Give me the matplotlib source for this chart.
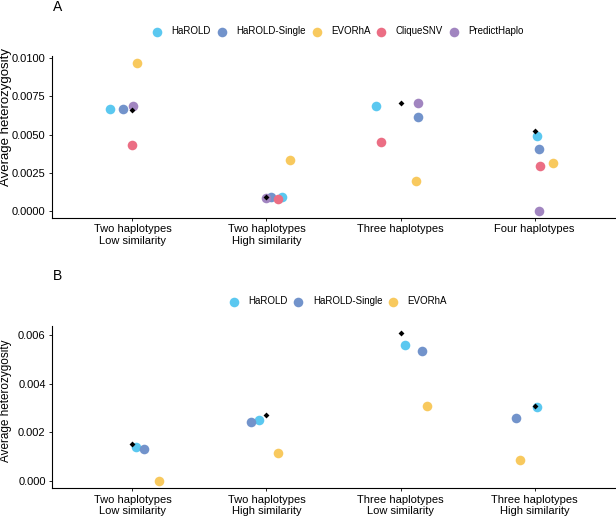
import matplotlib
matplotlib.use("Agg")
import matplotlib.pyplot as plt
from matplotlib.ticker import FormatStrFormatter

plt.rcParams['font.family'] = ['Liberation Sans', 'DejaVu Sans']

colors = {'HaROLD': '#5BC8F0', 'HaROLD-Single': '#7293CB', 'EVORhA': '#F8C95E',
          'CliqueSNV': '#EB6E84', 'PredictHaplo': '#A185C0'}

# panel A
cats_a = ['Two haplotypes\nLow similarity', 'Two haplotypes\nHigh similarity',
          'Three haplotypes', 'Four haplotypes']
methods_a = ['HaROLD', 'HaROLD-Single', 'EVORhA', 'CliqueSNV', 'PredictHaplo']
vals_a = {
    'HaROLD':        [0.00668, 0.00092, 0.00688, 0.00493],
    'HaROLD-Single': [0.00668, 0.00092, 0.00618, 0.00405],
    'EVORhA':        [0.00968, 0.00335, 0.00193, 0.00315],
    'CliqueSNV':     [0.00432, 0.00079, 0.00453, 0.00296],
    'PredictHaplo':  [0.00690, 0.00085, 0.00710, 0.00000],
}
jit_a = {
    'HaROLD':        [-0.164, 0.117, -0.184, 0.015],
    'HaROLD-Single': [-0.072, 0.035, 0.134, 0.032],
    'EVORhA':        [0.037, 0.177, 0.112, 0.134],
    'CliqueSNV':     [0.0, 0.087, -0.147, 0.037],
    'PredictHaplo':  [0.007, 0.0, 0.134, 0.030],
}
truth_a = [0.00662, 0.00092, 0.00706, 0.00522]
yticks_a = [0.0, 0.0025, 0.005, 0.0075, 0.01]

# panel B
cats_b = ['Two haplotypes\nLow similarity', 'Two haplotypes\nHigh similarity',
          'Three haplotypes\nLow similarity', 'Three haplotypes\nHigh similarity']
methods_b = ['HaROLD', 'HaROLD-Single', 'EVORhA']
vals_b = {
    'HaROLD':        [0.00141, 0.00251, 0.00559, 0.00304],
    'HaROLD-Single': [0.00133, 0.00244, 0.00536, 0.00260],
    'EVORhA':        [0.00001, 0.00115, 0.00310, 0.00086],
}
jit_b = {
    'HaROLD':        [0.030, -0.054, 0.032, 0.015],
    'HaROLD-Single': [0.084, -0.112, 0.157, -0.137],
    'EVORhA':        [0.200, 0.084, 0.200, -0.112],
}
truth_b = [0.00153, 0.00271, 0.00608, 0.00308]
yticks_b = [0.0, 0.002, 0.004, 0.006]

W, H = 616, 516
fig = plt.figure(figsize=(W / 100, H / 100), dpi=100)


def panel(rect, cats, methods, vals, jit, truth, yticks, fmt, label, ylab):
    l, t, r, b = rect
    ax = fig.add_axes([l / W, 1 - b / H, (r - l) / W, (b - t) / H])
    for m in methods:
        xs = [i + 1 + j for i, j in enumerate(jit[m])]
        ax.scatter(xs, vals[m], s=48, color=colors[m], label=m, linewidths=0, zorder=2)
    ax.scatter(range(1, len(truth) + 1), truth, marker='D', s=9, color='black',
               linewidths=0, zorder=3)
    top = max(max(v) for v in vals.values())
    top = max(top, max(truth))
    ax.set_ylim(-0.05 * top, 1.05 * top)
    ax.set_xlim(0.4, len(cats) + 0.6)
    ax.set_xticks(range(1, len(cats) + 1))
    ax.set_xticklabels(cats, fontsize=8)
    ax.set_yticks(yticks)
    ax.yaxis.set_major_formatter(FormatStrFormatter(fmt))
    ax.tick_params(axis='y', labelsize=8, length=2.5, width=0.6, pad=2)
    ax.tick_params(axis='x', length=2.5, width=0.6, pad=2)
    for s in ['top', 'right']:
        ax.spines[s].set_visible(False)
    for s in ['left', 'bottom']:
        ax.spines[s].set_linewidth(0.8)
    # y label placed by hand, as in the reference it is not quite centred
    fig.text(6.5 / W, 1 - ylab[0] / H, 'Average heterozygosity', fontsize=ylab[1],
             rotation=90, ha='center', va='center')
    ax.legend(loc='center', bbox_to_anchor=(0.5 + 4.5 / (r - l), 1 + 24.5 / (b - t)),
              ncol=len(methods), frameon=False, fontsize=7, handlelength=1.0,
              handletextpad=1.0, columnspacing=0.6, borderaxespad=0, borderpad=0)
    fig.text(53 / W, 1 - label[1] / H, label[0], fontsize=10, va='center')
    return ax


panel((52, 55.8, 615, 218.1), cats_a, methods_a, vals_a, jit_a, truth_a, yticks_a, '%.4f',
      ('A', 7), (117, 9.5))
panel((52, 325.7, 615, 488.4), cats_b, methods_b, vals_b, jit_b, truth_b, yticks_b, '%.3f',
      ('B', 276), (401, 8.5))

fig.savefig('out.png', dpi=100, facecolor='white')
